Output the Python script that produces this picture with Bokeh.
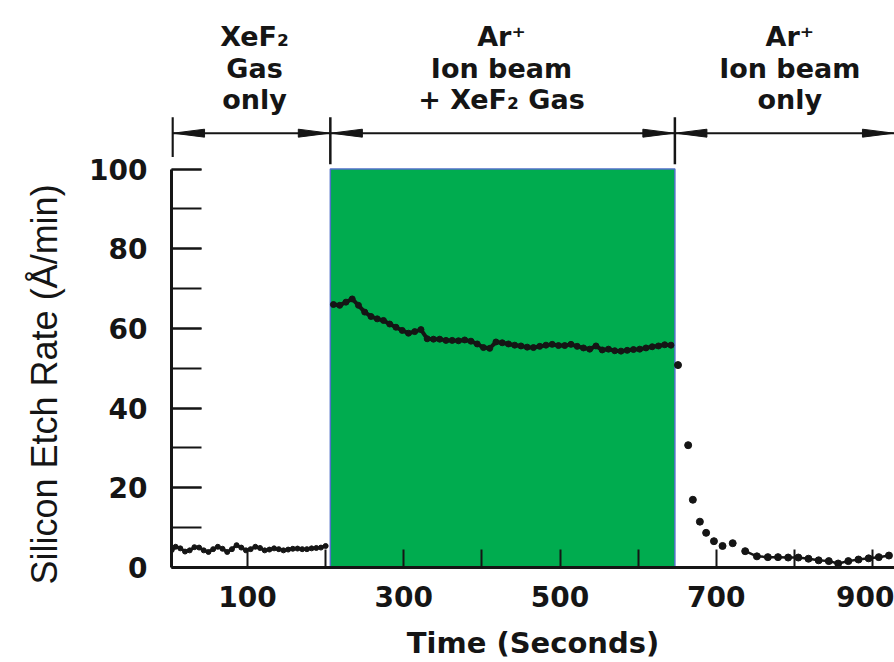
import numpy as np
from bokeh.plotting import figure
from bokeh.models import Range1d, FixedTicker, SingleIntervalTicker, ColumnDataSource, Title
from bokeh.core.properties import value
from bokeh.embed import file_html
from bokeh.resources import INLINE

# ---------------- data ----------------
# Phase 1: XeF2 gas only
t_gas = [3, 8, 14, 20, 26, 32, 38, 44, 50, 56, 62, 68, 74, 80, 86, 92, 98, 104, 110, 116,
         122, 128, 134, 140, 146, 152, 158, 164, 170, 176, 182, 188, 194, 200]
rate_gas = [4.4, 5.2, 4.8, 4.0, 4.3, 5.1, 5.0, 4.3, 3.9, 4.6, 5.2, 4.7, 3.9, 4.6, 5.6, 5.0, 4.3, 4.6, 5.2, 4.9,
            4.3, 4.5, 4.8, 4.6, 4.3, 4.5, 4.7, 4.75, 4.6, 4.6, 4.8, 4.9, 5.0, 5.4]

# Phase 2: Ar+ ion beam + XeF2 gas
t_both = [210, 218, 226, 234, 242, 250, 258, 266, 274, 282,
          290, 298, 306, 314, 322, 330, 338, 346, 354, 362,
          370, 378, 386, 394, 402, 410, 418, 426, 434, 442,
          450, 458, 466, 474, 482, 490, 498, 506, 514, 522,
          530, 538, 546, 554, 562, 570, 578, 586, 594, 602,
          610, 618, 626, 634, 642]
rate_both = [66.0, 65.8, 66.6, 67.4, 65.8, 64.1, 63.0, 62.4, 62.0, 61.1,
             60.3, 59.5, 58.8, 59.2, 59.7, 57.4, 57.3, 57.3, 57.0, 57.0,
             56.9, 57.1, 56.8, 56.1, 55.2, 55.0, 56.6, 56.4, 56.1, 55.8,
             55.6, 55.3, 55.2, 55.5, 55.8, 56.0, 55.7, 55.7, 56.0, 55.5,
             55.1, 54.8, 55.6, 54.6, 54.8, 54.4, 54.3, 54.5, 54.7, 54.8,
             55.1, 55.4, 55.6, 55.9, 55.8]

# Phase 3: Ar+ ion beam only
t_ion = [651, 664, 670, 679, 687, 697, 708, 721, 737, 752, 766, 779, 792, 805, 818, 831,
         844, 856, 869, 882, 895, 908, 921]
rate_ion = [50.8, 30.7, 17.0, 11.5, 8.7, 6.6, 5.4, 6.1, 4.1, 2.8, 2.6, 2.6, 2.5, 2.5, 2.2, 1.8,
            1.6, 1.0, 1.6, 2.0, 2.3, 2.6, 3.0]

# phase boundaries (s) and phase captions
phase_edges = [4, 206, 647]
caption_line1 = ["XeF₂", "Ar⁺", "Ar⁺"]
caption_line2 = ["Gas", "Ion beam", "Ion beam"]
caption_line3 = ["only", "+ XeF₂ Gas", "only"]

x_major_ticks = [100, 300, 500, 700, 900]
x_minor_ticks = [200, 400, 600, 800]

# ---------------- figure ----------------
X0, X1 = 2.7, 928.1
Y0, Y1 = 0, 142.3
p = figure(width=894, height=662, output_backend="svg", toolbar_location=None,
           x_range=Range1d(X0, X1), y_range=Range1d(Y0, Y1),
           min_border_left=171, min_border_right=0, min_border_top=0, min_border_bottom=92)
p.outline_line_color = None
p.grid.visible = False
p.background_fill_color = "white"

INK = "#151515"

# green shaded phase (ion beam + gas)
p.quad(left=[phase_edges[1]], right=[phase_edges[2]], bottom=[0], top=[100],
       fill_color="#00AC4F", line_color="#5070C8", line_width=1.5)

# data
p.line(t_gas, rate_gas, line_color=INK, line_width=3)
p.scatter(t_gas, rate_gas, size=5, fill_color=INK, line_color=INK)
p.line(t_both, rate_both, line_color=INK, line_width=4)
p.scatter(t_both, rate_both, size=6, fill_color=INK, line_color=INK)
p.line(t_ion[8:], rate_ion[8:], line_color=INK, line_width=2.5)
p.scatter(t_ion, rate_ion, size=7, fill_color=INK, line_color=INK)

# axes
xa = p.xaxis[0]
ya = p.yaxis[0]
xa.ticker = FixedTicker(ticks=x_major_ticks, minor_ticks=x_minor_ticks)
ya.ticker = SingleIntervalTicker(interval=20, num_minor_ticks=2)
ya.bounds = (0, 100)
for ax in (xa, ya):
    ax.axis_line_width = 3
    ax.axis_line_color = INK
    ax.major_tick_line_color = INK
    ax.minor_tick_line_color = INK
    ax.major_tick_line_width = 2
    ax.minor_tick_line_width = 2
    ax.major_tick_out = 0
    ax.minor_tick_out = 0
    ax.major_label_text_font = "DejaVu Sans"
    ax.major_label_text_font_style = "bold"
    ax.major_label_text_font_size = "28px"
    ax.major_label_text_color = INK
xa.major_tick_in = 18
xa.minor_tick_in = 18
ya.major_tick_in = 30
ya.minor_tick_in = 30
xa.major_label_standoff = 18
ya.major_label_standoff = 24

xa.axis_label = "Time (Seconds)"
xa.axis_label_text_font = "DejaVu Sans"
xa.axis_label_text_font_style = "bold"
xa.axis_label_text_font_size = "29px"
xa.axis_label_text_color = INK
xa.axis_label_standoff = 16

# y-axis title as a side title so that it can sit along the 0-100 span
p.add_layout(Title(text="Silicon Etch Rate (Å/min)", align="left", vertical_align="top",
                   offset=-17, standoff=40, text_font="Liberation Sans",
                   text_font_style="normal", text_font_size="36px", text_color=INK), "left")

# phase arrows across the top
ARROW_Y = 109.0
HEAD_L = 40.0
HEAD_H = 1.0
ends = phase_edges[1:] + [X1]
p.segment(x0=[phase_edges[0]], y0=[ARROW_Y], x1=[X1], y1=[ARROW_Y], line_color=INK, line_width=2)
p.segment(x0=phase_edges, x1=phase_edges, y0=[103.0, 101.2, 101.2], y1=[113.0, 113.0, 113.0],
          line_color=INK, line_width=2.5)
hx, hy = [], []
for a, b in zip(phase_edges, ends):
    hx.append([a + 1, a + 1 + HEAD_L, a + 1 + HEAD_L])
    hy.append([ARROW_Y, ARROW_Y + HEAD_H, ARROW_Y - HEAD_H])
    hx.append([b - 1, b - 1 - HEAD_L, b - 1 - HEAD_L])
    hy.append([ARROW_Y, ARROW_Y + HEAD_H, ARROW_Y - HEAD_H])
p.patches(hx, hy, fill_color=INK, line_color=INK, line_width=1)

# phase captions
cap_x = [109, 425, 794]
src = ColumnDataSource(dict(
    x=cap_x * 3,
    y=[133.3] * 3 + [125.3] * 3 + [117.4] * 3,
    text=caption_line1 + caption_line2 + caption_line3,
))
p.text(x="x", y="y", text="text", source=src, text_align="center", text_baseline="alphabetic",
       text_font=value("DejaVu Sans"), text_font_style="bold", text_font_size="27px", text_color=INK)

open("out.html", "w").write(file_html(p, INLINE))
